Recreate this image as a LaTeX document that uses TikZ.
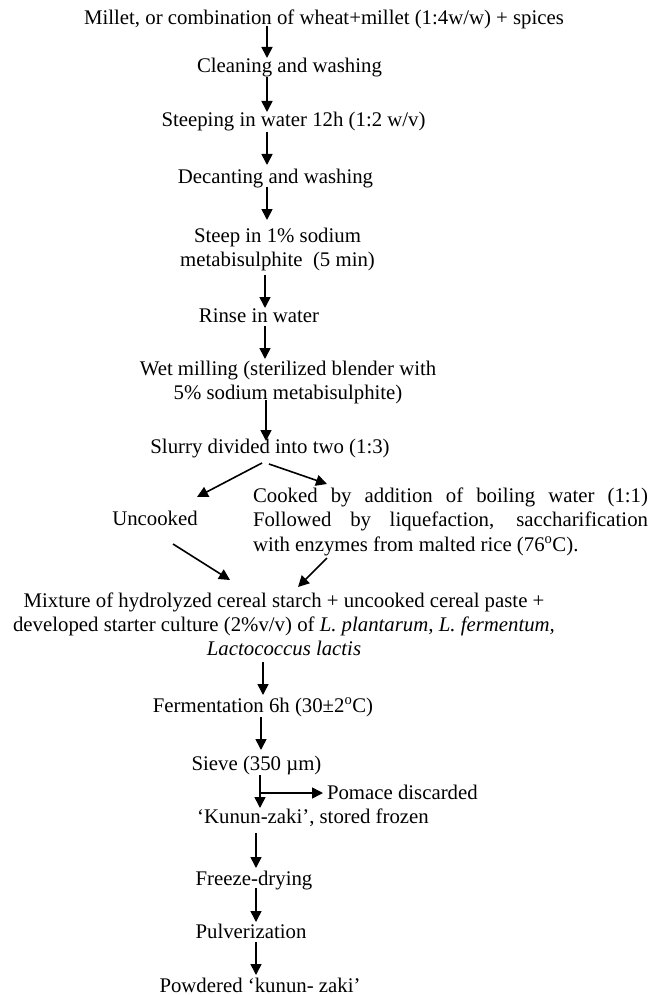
\documentclass[tikz,border=0pt]{standalone}
\usepackage{fontspec}
\setmainfont{Liberation Serif}
\usetikzlibrary{arrows.meta,calc}
\hbadness=10000
\begin{document}
\begin{tikzpicture}[x=1pt,y=-1pt,
  txt/.style={inner sep=0pt, outer sep=0pt, anchor=base, font=\fontsize{20.8}{24}\selectfont},
  arr/.style={line width=1.6pt, -{Triangle[length=11pt,width=11pt]}}]
\useasboundingbox (0,0) rectangle (652,995);
\node[txt] (n1) at (324,25) {Millet, or combination of wheat+millet (1:4w/w) + spices};
\node[txt] (n2) at (289.5,73) {Cleaning and washing};
\node[txt] (n3) at (293.5,127) {Steeping in water 12h (1:2 w/v)};
\node[txt] (n4) at (275.5,183) {Decanting and washing};
\node[txt] (n5) at (277.5,242) {\begin{tabular}[t]{@{}c@{}}Steep in 1\% sodium\\ metabisulphite\ \ (5 min)\end{tabular}};
\node[txt] (n6) at (259,322) {Rinse in water};
\node[txt] (n7) at (288,375) {\begin{tabular}[t]{@{}c@{}}Wet milling (sterilized blender with\\ 5\% sodium metabisulphite)\end{tabular}};
\node[txt] (n8) at (270,453) {Slurry divided into two (1:3)};
\node[txt] (n9) at (155,525) {Uncooked};
\node[txt, anchor=base west] (n10) at (253,502) {\parbox[t]{395pt}{\fontsize{20.8}{24.5}\selectfont Cooked by addition of boiling water (1:1)\linebreak Followed by liquefaction, saccharification\linebreak with enzymes from malted rice (76\textsuperscript{o}C).}};
\node[txt] (n11) at (284,607) {\begin{tabular}[t]{@{}c@{}}Mixture of hydrolyzed cereal starch + uncooked cereal paste +\\ developed starter culture (2\%v/v) of \textit{L. plantarum, L. fermentum,}\\ \textit{Lactococcus lactis}\end{tabular}};
\node[txt] (n12) at (263,712) {Fermentation 6h (30±2\textsuperscript{o}C)};
\node[txt] (n13) at (256.5,770) {Sieve (350 µm)};
\node[txt, anchor=base west] (n14) at (327,799) {Pomace discarded};
\node[txt] (n15) at (313,823) {‘Kunun-zaki’, stored frozen};
\node[txt] (n16) at (254,885) {Freeze-drying};
\node[txt] (n17) at (251,938) {Pulverization};
\node[txt] (n18) at (260,992) {Powdered ‘kunun- zaki’};

\draw[arr] ($(n1.base)+(-57,1)$) -- ($(n2.base)+(-22.5,-15)$);
\draw[arr] ($(n2.base)+(-22.5,4)$) -- ($(n3.base)+(-26.5,-15)$);
\draw[arr] ($(n3.base)+(-26.5,5)$) -- ($(n4.base)+(-8.5,-18)$);
\draw[arr] ($(n4.base)+(-8.5,4)$) -- ($(n5.base)+(-10.5,-22)$);
\draw[arr] ($(n5.base)+(-12.5,33)$) -- ($(n6.base)+(6,-14)$);
\draw[arr] ($(n6.base)+(6,4)$) -- ($(n7.base)+(-23,-16)$);
\draw[arr] ($(n7.base)+(-22,25)$) -- ($(n8.base)+(-4,-12)$);
\draw[arr] ($(n8.base)+(-8,10)$) -- ($(n9.base)+(42,-28)$);
\draw[arr] ($(n8.base)+(-1,11)$) -- ($(n10.base west)+(74,-18)$);
\draw[arr] ($(n9.base)+(18,19)$) -- ($(n11.base)+(-54,-27)$);
\draw[arr] ($(n10.base west)+(74,56)$) -- ($(n11.base)+(14,-20)$);
\draw[arr] ($(n11.base)+(-21,55)$) -- ($(n12.base)+(0,-17)$);
\draw[arr] ($(n12.base)+(-2,5)$) -- ($(n13.base)+(4.5,-20)$);
\draw[arr] ($(n13.base)+(3.5,5)$) -- ($(n15.base)+(-53,-15)$);
\draw[arr] ($(n13.base)+(3.5,23)$) -- ($(n14.base west)+(-4,-6)$);
\draw[arr] ($(n15.base)+(-57,10)$) -- ($(n16.base)+(2,-17)$);
\draw[arr] ($(n16.base)+(2,3)$) -- ($(n17.base)+(5,-16)$);
\draw[arr] ($(n17.base)+(5,4)$) -- ($(n18.base)+(-4,-17)$);
\end{tikzpicture}
\end{document}
